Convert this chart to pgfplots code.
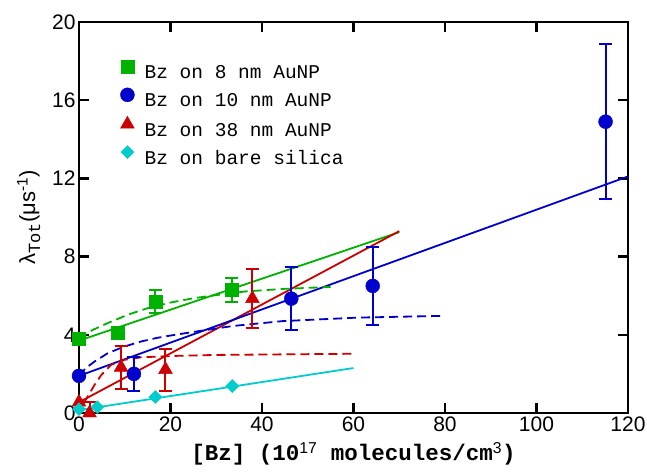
\documentclass[border=0pt]{standalone}
\usepackage{fontspec}
\setmainfont{Liberation Sans}
\setmonofont{Liberation Mono}
\usepackage{pgfplots}
\pgfplotsset{compat=1.18}
\definecolor{cgreen}{RGB}{0,178,0}
\definecolor{cblue}{RGB}{0,0,204}
\definecolor{cred}{RGB}{204,0,0}
\definecolor{ccyan}{RGB}{0,204,204}
\begin{document}
\begin{tikzpicture}
\begin{axis}[
    scale only axis, width=549bp, height=391bp,
    xmin=0, xmax=120, ymin=0, ymax=20,
    xtick={0,20,...,120}, ytick={0,4,...,20},
    tick align=inside, major tick length=10bp,
    tick style={black, line width=2.5bp},
    axis line style={line width=2.8bp},
    tick label style={font=\fontsize{21bp}{25bp}\selectfont},
    /pgf/number format/assume math mode=true,
    xlabel={\fontsize{22.5bp}{27bp}\selectfont\bfseries\ttfamily [Bz] (10\textsuperscript{\normalfont\mdseries 17} molecules/cm\textsuperscript{\normalfont\mdseries 3})},
    xlabel shift=4bp,
    ylabel={\fontsize{22bp}{26bp}\selectfont λ\raisebox{-5bp}{\fontsize{17bp}{20bp}\selectfont\ttfamily Tot}(μs\textsuperscript{-1})},
    ylabel shift=5bp,
    legend style={draw=none, fill=none, inner sep=0pt,
        at={(0.0729,0.903)}, anchor=north west,
        font=\fontsize{19.5bp}{23bp}\selectfont\ttfamily,
        nodes={inner sep=0pt, text height=14bp, text depth=4bp},
        row sep=5.4bp,
        /tikz/every odd column/.style={column sep=9bp}},
    legend cell align=left,
    legend image code/.code={\path (-8bp,0) (8bp,0); \draw[#1] plot coordinates {(0bp,7bp)};},
    error bars/error bar style={line width=2bp},
    error bars/error mark options={rotate=90, mark size=6.5bp, line width=2bp},
]
% fitted lines
\addplot[forget plot, cgreen, line width=1.8bp] coordinates {(0,3.7)(70,9.25)};
\addplot[forget plot, cred, line width=1.8bp] coordinates {(0,0.55)(70,9.3)};
\addplot[forget plot, cblue, line width=1.8bp] coordinates {(0,1.9)(120,12.1)};
\addplot[forget plot, ccyan, line width=1.8bp] coordinates {(0,0.15)(60,2.3)};
% saturation curves
\addplot[forget plot, cgreen, line width=1.8bp, dash pattern=on 9bp off 5bp] coordinates {
    (0,3.8)(1.2,4.0)(3,4.25)(6.3,4.6)(10.7,5.03)(15.8,5.42)(20,5.65)(25,5.87)(30,6.03)(36.5,6.22)(45,6.35)(55,6.45)};
\addplot[forget plot, cblue, line width=1.8bp, dash pattern=on 9bp off 5bp] coordinates {
    (0,1.9)(1.5,2.3)(3.4,2.63)(6.3,3.06)(9.9,3.4)(13.6,3.66)(17.2,3.85)(21,4.0)(26.5,4.2)(33.6,4.45)(44.5,4.7)(61,4.88)(80,4.97)};
\addplot[forget plot, cred, line width=1.8bp, dash pattern=on 9bp off 5bp] coordinates {
    (1,0.5)(1.9,0.84)(3.4,1.44)(4.9,1.95)(7,2.46)(9.9,2.72)(13.6,2.85)(20.9,2.92)(30,2.97)(45,3.0)(60,3.03)};
% data
\addplot[only marks, cgreen, mark=square*, mark size=6.3bp,
    error bars/.cd, y dir=both, y explicit]
    table[x=x, y=y, y error=e] {
x y e
0 3.8 0
8.4 4.1 0
16.7 5.7 0.6
33.4 6.3 0.6
};
\addlegendentry{Bz on 8 nm AuNP}
\addplot[only marks, cblue, mark=*, mark size=7bp,
    error bars/.cd, y dir=both, y explicit]
    table[x=x, y=y, y error=e] {
x y e
0 1.9 0
12.0 2.0 0.88
46.4 5.85 1.6
64.2 6.5 2.0
115.1 14.9 3.95
};
\addlegendentry{Bz on 10 nm AuNP}
\addplot[only marks, cred, mark=triangle*, mark size=8bp,
    error bars/.cd, y dir=both, y explicit]
    table[x=x, y=y, y error=e] {
x y e
0 0.55 0
2.3 0.0 0.55
9.2 2.33 1.1
18.9 2.22 1.07
37.9 5.85 1.5
};
\addlegendentry{Bz on 38 nm AuNP}
\addplot[only marks, ccyan, mark=square*, mark size=4.6bp, mark options={rotate=45}]
    table[x=x, y=y] {
x y
0 0.2
4.0 0.3
16.7 0.82
33.5 1.38
};
\addlegendentry{Bz on bare silica}
\end{axis}
\pgfresetboundingbox
\path[use as bounding box] ([shift={(-79bp,-60bp)}]current axis.south west) rectangle ([shift={(19bp,22bp)}]current axis.north east);
\end{tikzpicture}
\end{document}
